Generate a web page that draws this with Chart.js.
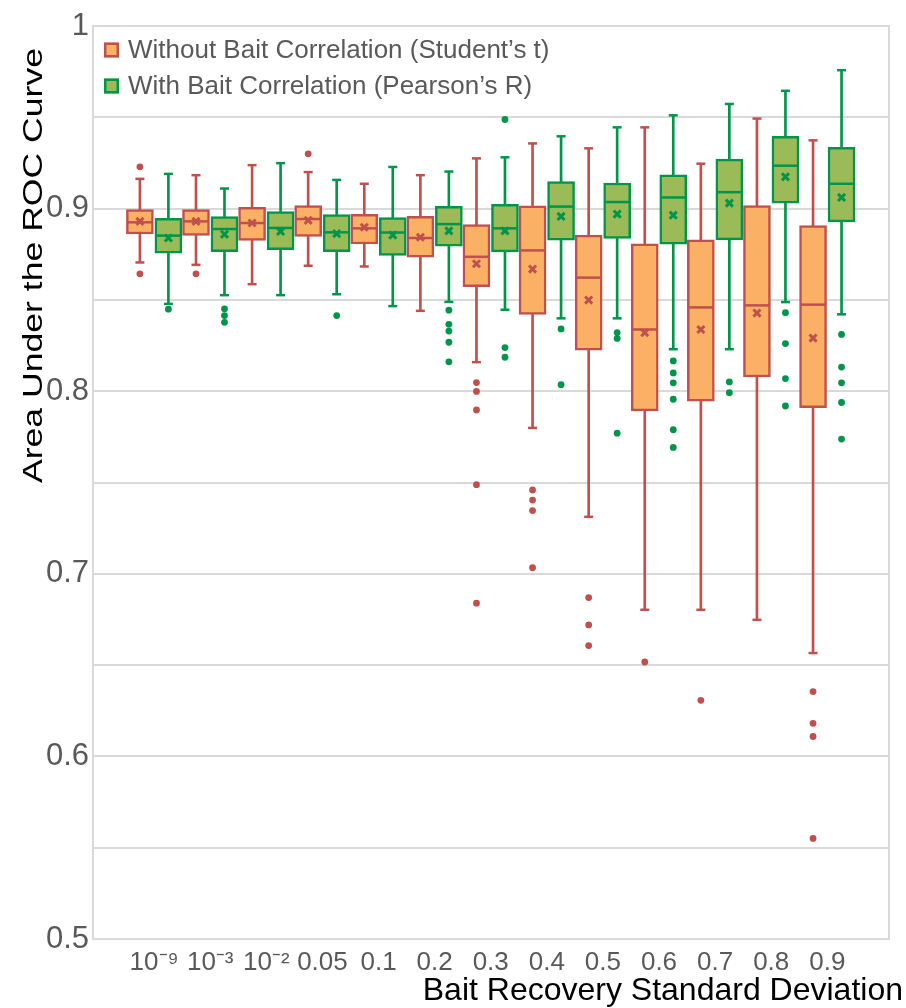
<!DOCTYPE html>
<html>
<head>
<meta charset="utf-8">
<script src="https://cdn.jsdelivr.net/npm/chart.js@4.4.1/dist/chart.umd.min.js"></script>
<style>
  html, body { margin: 0; padding: 0; background: #fff; }
  #wrap { width: 906px; height: 1008px; }
</style>
</head>
<body>
<div id="wrap"><canvas id="roc"></canvas></div>
<script>
// categories (bait recovery standard deviation)
const labels = ['10\u207B\u2079', '10\u207B\u00B3', '10\u207B\u00B2', '0.05', '0.1', '0.2', '0.3', '0.4', '0.5', '0.6', '0.7', '0.8', '0.9'];

// Without bait correlation (Student's t)
const studentMin    = [0.8705, 0.8692, 0.8586, 0.8687, 0.8683, 0.8440, 0.8159, 0.7799, 0.7312, 0.6803, 0.6803, 0.6748, 0.6566];
const studentQ1     = [0.8861, 0.8853, 0.8826, 0.8848, 0.8806, 0.8734, 0.8573, 0.8421, 0.8225, 0.7892, 0.7946, 0.8078, 0.7910];
const studentMedian = [0.8925, 0.8930, 0.8921, 0.8943, 0.8892, 0.8839, 0.8736, 0.8771, 0.8622, 0.8338, 0.8459, 0.8470, 0.8474];
const studentQ3     = [0.8995, 0.8995, 0.9007, 0.9016, 0.8968, 0.8957, 0.8912, 0.9015, 0.8855, 0.8807, 0.8829, 0.9017, 0.8907];
const studentMax    = [0.9163, 0.9183, 0.9238, 0.9200, 0.9136, 0.9183, 0.9275, 0.9357, 0.9330, 0.9445, 0.9246, 0.9493, 0.9374];
const studentMean   = [0.8930, 0.8930, 0.8921, 0.8936, 0.8898, 0.8843, 0.8698, 0.8669, 0.8499, 0.8320, 0.8338, 0.8428, 0.8291];
const studentOutliers = [
  [0.9229, 0.8643], [0.8643], [], [0.9300], [], [],
  [0.8047, 0.7999, 0.7897, 0.7488, 0.6839],
  [0.7459, 0.7404, 0.7346, 0.7033],
  [0.6870, 0.6720, 0.6607],
  [0.6517], [0.6307], [],
  [0.6355, 0.6181, 0.6109, 0.5551]
];

// With bait correlation (Pearson's R)
const pearsonMin    = [0.8478, 0.8526, 0.8526, 0.8531, 0.8466, 0.8489, 0.8446, 0.8399, 0.8399, 0.8230, 0.8230, 0.8488, 0.8421];
const pearsonQ1     = [0.8756, 0.8764, 0.8775, 0.8764, 0.8743, 0.8794, 0.8763, 0.8827, 0.8837, 0.8805, 0.8829, 0.9030, 0.8927];
const pearsonMedian = [0.8852, 0.8888, 0.8894, 0.8870, 0.8869, 0.8915, 0.8892, 0.9011, 0.9036, 0.9061, 0.9090, 0.9235, 0.9136];
const pearsonQ3     = [0.8947, 0.8956, 0.8984, 0.8967, 0.8951, 0.9013, 0.9023, 0.9148, 0.9140, 0.9185, 0.9271, 0.9396, 0.9335];
const pearsonMax    = [0.9190, 0.9110, 0.9249, 0.9157, 0.9228, 0.9203, 0.9281, 0.9396, 0.9445, 0.9511, 0.9573, 0.9645, 0.9758];
const pearsonMean   = [0.8839, 0.8859, 0.8875, 0.8863, 0.8855, 0.8878, 0.8878, 0.8957, 0.8970, 0.8964, 0.9030, 0.9174, 0.9061];
const pearsonOutliers = [
  [0.8449], [0.8451, 0.8414, 0.8377], [], [0.8414], [],
  [0.8444, 0.8366, 0.8329, 0.8268, 0.8161],
  [0.9488, 0.8239, 0.8186],
  [0.8341, 0.8036],
  [0.8321, 0.8289, 0.7770],
  [0.8166, 0.8100, 0.8046, 0.7956, 0.7789, 0.7692],
  [0.8051, 0.7992],
  [0.8430, 0.8261, 0.8069, 0.7919],
  [0.8311, 0.8132, 0.8046, 0.7938, 0.7738]
];

const FONT = "'Liberation Sans', Arial, sans-serif";
const GREY = '#595959';
Chart.defaults.font.family = FONT;

const series = [
  { name: 'Without Bait Correlation (Student\u2019s t)', fill: '#FAB166', line: '#C0504D', dx: -0.254,
    min: studentMin, q1: studentQ1, med: studentMedian, q3: studentQ3, max: studentMax, mean: studentMean, out: studentOutliers },
  { name: 'With Bait Correlation (Pearson\u2019s R)', fill: '#9BBB59', line: '#00954A', dx: 0.254,
    min: pearsonMin, q1: pearsonQ1, med: pearsonMedian, q3: pearsonQ3, max: pearsonMax, mean: pearsonMean, out: pearsonOutliers }
];

function pts(arr, dx) {
  return arr.map((v, i) => ({ x: i + dx, y: v }));
}

const datasets = [];
series.forEach(s => {
  // whiskers
  datasets.push({
    type: 'bar', label: s.name + ' whisker', grouped: false, order: 5,
    data: s.min.map((v, i) => ({ x: i + s.dx, y: [v, s.max[i]] })),
    backgroundColor: s.line, borderWidth: 0, barThickness: 2
  });
  // boxes
  datasets.push({
    type: 'bar', label: s.name, grouped: false, order: 4,
    data: s.q1.map((v, i) => ({ x: i + s.dx, y: [v, s.q3[i]] })),
    backgroundColor: s.fill, borderColor: s.line, borderWidth: 2.5, borderSkipped: false, barThickness: 27
  });
  // whisker caps
  datasets.push({
    type: 'scatter', label: s.name + ' caps', order: 3,
    data: pts(s.min, s.dx).concat(pts(s.max, s.dx)),
    pointStyle: 'line', pointRadius: 4.5, pointHoverRadius: 4.5, borderColor: s.line, borderWidth: 2.5
  });
  // medians
  datasets.push({
    type: 'scatter', label: s.name + ' median', order: 3,
    data: pts(s.med, s.dx),
    pointStyle: 'line', pointRadius: 13, pointHoverRadius: 13, borderColor: s.line, borderWidth: 2.5
  });
  // means
  datasets.push({
    type: 'scatter', label: s.name + ' mean', order: 2,
    data: pts(s.mean, s.dx),
    pointStyle: 'crossRot', pointRadius: 5, pointHoverRadius: 5, borderColor: s.line, borderWidth: 3
  });
  // outliers
  const o = [];
  s.out.forEach((list, i) => list.forEach(v => o.push({ x: i + s.dx, y: v })));
  datasets.push({
    type: 'scatter', label: s.name + ' outliers', order: 1,
    data: o,
    pointStyle: 'circle', pointRadius: 3.4, pointHoverRadius: 3.4, backgroundColor: s.line, borderWidth: 0
  });
});

const decorations = {
  id: 'decorations',
  beforeDatasetsDraw(chart) {
    const { ctx, chartArea: a } = chart;
    ctx.save();
    ctx.strokeStyle = '#D9D9D9';
    ctx.lineWidth = 2;
    ctx.strokeRect(a.left, a.top, a.right - a.left, a.bottom - a.top);
    ctx.restore();
  },
  afterDraw(chart) {
    const { ctx } = chart;
    ctx.save();
    // legend
    ctx.font = '26px ' + FONT;
    ctx.textBaseline = 'middle';
    series.forEach((s, k) => {
      const y = 50 + k * 36;
      ctx.fillStyle = s.fill;
      ctx.fillRect(104, y - 7.5, 15, 15);
      ctx.strokeStyle = s.line;
      ctx.lineWidth = 2.5;
      ctx.strokeRect(105.25, y - 6.25, 12.5, 12.5);
      ctx.fillStyle = GREY;
      ctx.fillText(s.name, 128, y + 1);
    });
    // y axis title
    ctx.fillStyle = '#000';
    ctx.font = '27px ' + FONT;
    ctx.textBaseline = 'alphabetic';
    ctx.textAlign = 'left';
    const yt = 'Area Under the ROC Curve';
    ctx.translate(42, 483);
    ctx.rotate(-Math.PI / 2);
    ctx.scale(435 / ctx.measureText(yt).width, 1);
    ctx.fillText(yt, 0, 0);
    ctx.restore();
    // x axis title
    ctx.save();
    ctx.fillStyle = '#000';
    ctx.font = '32px ' + FONT;
    ctx.textAlign = 'right';
    ctx.textBaseline = 'alphabetic';
    ctx.fillText('Bait Recovery Standard Deviation', 903, 1000);
    ctx.restore();
  }
};

new Chart(document.getElementById('roc'), {
  type: 'bar',
  data: { datasets: datasets },
  options: {
    responsive: true,
    maintainAspectRatio: false,
    animation: false,
    layout: { padding: { top: 26, right: 17, left: 0, bottom: 0 } },
    plugins: { legend: { display: false }, tooltip: { enabled: false } },
    scales: {
      x: {
        type: 'linear', min: -1.09, max: 13.1, offset: false,
        grid: { display: false, drawTicks: false },
        border: { display: false },
        afterBuildTicks: sc => { sc.ticks = labels.map((l, i) => ({ value: i })); },
        afterFit: sc => { sc.height = 69; },
        ticks: {
          autoSkip: false, maxRotation: 0, padding: 8,
          color: GREY, font: { size: 26 },
          callback: v => labels[Math.round(v)]
        }
      },
      y: {
        type: 'linear', min: 0.5, max: 1,
        grid: { color: '#D9D9D9', lineWidth: 2, drawTicks: false },
        border: { display: false },
        afterFit: sc => { sc.width = 93; },
        ticks: {
          stepSize: 0.05, padding: 4, color: GREY, font: { size: 31 },
          callback: v => {
            const t = Math.round(v * 100);
            if (t % 10 !== 0) return '';
            return t === 100 ? '1' : (t / 100).toFixed(1);
          }
        }
      }
    }
  },
  plugins: [decorations]
});
</script>
</body>
</html>
